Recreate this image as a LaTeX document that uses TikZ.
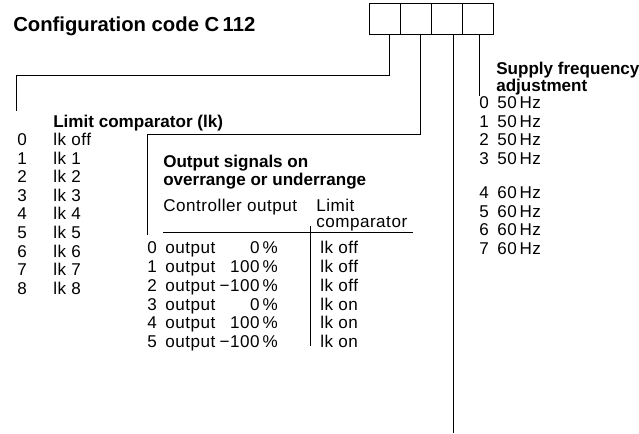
\documentclass[tikz,border=0pt]{standalone}
\usepackage{fontspec}
\setmainfont{Liberation Sans}
\newfontfamily\regfont[LetterSpace=3]{Liberation Sans}
\begin{document}
\begin{tikzpicture}[x=0.75pt,y=-0.75pt,
  txt/.style={anchor=base west, inner sep=0pt, font=\regfont\fontsize{12.8}{15}\selectfont},
  rtxt/.style={txt, anchor=base east},
  hd/.style={anchor=base west, inner sep=0pt, font=\fontsize{12.8}{15}\selectfont\bfseries},
  ttl/.style={anchor=base west, inner sep=0pt, font=\fontsize{15.2}{18}\selectfont\bfseries},
  cell/.style={draw, line width=0.75pt, inner sep=0pt, outer sep=0pt, minimum width=23.25pt, minimum height=23.25pt},
  ln/.style={line width=0.75pt}]
\useasboundingbox (0,0) rectangle (639,434);
% title
\node[ttl] (title) at (13,32) {Configuration code C\,112};
% boxes
\node[cell] (b1) at (385,19.5) {};
\node[cell] (b2) at (416,19.5) {};
\node[cell] (b3) at (447,19.5) {};
\node[cell] (b4) at (478,19.5) {};
% end points
\coordinate (e1) at (16,111);
\coordinate (e2) at (147,235);
\coordinate (e3) at (453,433);
\coordinate (e4) at (479,96);
% connectors
\draw[ln] ([xshift=3pt]b1.south) -- ++(0,41) -| (e1);
\draw[ln] ([xshift=3pt]b2.south) -- ++(0,100) -| (e2);
\draw[ln] (b3.south -| e3) -- (e3);
\draw[ln] (b4.south -| e4) -- (e4);
% limit comparator
\node[hd] (lc) at (53,128) {Limit comparator (lk)};
\foreach \i/\t in {0/lk off,1/lk 1,2/lk 2,3/lk 3,4/lk 4,5/lk 5,6/lk 6,7/lk 7,8/lk 8}{
  \node[txt] (ld\i) at (17,145.5+18.6*\i) {\i};
  \node[txt] (lt\i) at (53,145.5+18.6*\i) {\t};
}
% output signals
\node[hd] (os1) at (163,168) {Output signals on};
\node[hd] (os2) at (163,186) {overrange or underrange};
\node[txt] (co) at (163,212) {Controller output};
\node[txt] (lm1) at (316,212) {Limit};
\node[txt] (lm2) at (316,228) {comparator};
\coordinate (ul1) at (163,233);
\coordinate (ul2) at (413,233);
\coordinate (dv1) at (310,226);
\coordinate (dv2) at (310,346);
\draw[ln] (ul1) -- (ul2);
\draw[ln] (dv1) -- (dv2);
\foreach \i/\p/\s in {0/0/off,1/100/off,2/−100/off,3/0/on,4/100/on,5/−100/on}{
  \node[txt] (od\i) at (147,254+18.7*\i) {\i};
  \node[txt] (ow\i) at (165,254+18.7*\i) {output};
  \node[rtxt] (op\i) at (278,254+18.7*\i) {\p\,\%};
  \node[txt] (ol\i) at (320,254+18.7*\i) {lk \s};
}
% supply frequency
\node[hd] (sf1) at (496,75) {Supply frequency};
\node[hd] (sf2) at (496,92) {adjustment};
\foreach \i/\y/\f in {0/109/50,1/127.4/50,2/145.8/50,3/164.2/50,4/199/60,5/217.4/60,6/235.8/60,7/254.2/60}{
  \node[txt] (fd\i) at (479,\y) {\i};
  \node[txt] (ft\i) at (497,\y) {\f\,Hz};
}
\end{tikzpicture}
\end{document}
